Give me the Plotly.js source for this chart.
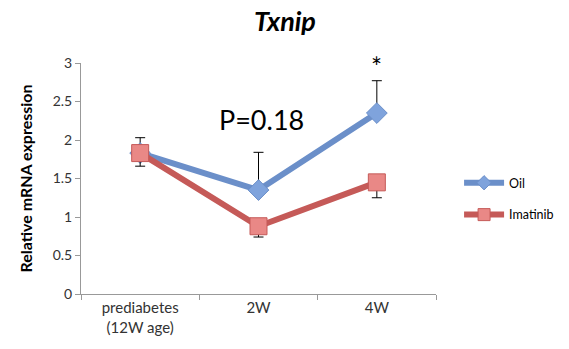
<!DOCTYPE html>
<html><head><meta charset="utf-8">
<script src="https://cdn.plot.ly/plotly-3.0.1.min.js"></script>
<style>body{margin:0}#c{width:569px;height:349px}</style>
</head><body><div id="c"></div>
<script>
const categories = ["prediabetes<br>(12W age)", "2W", "4W"];
const oilValues = [1.83, 1.35, 2.35];
const oilErrPlus = [0.2, 0.49, 0.42];
const imatinibValues = [1.83, 0.88, 1.45];
const imatinibErrMinus = [0.17, 0.14, 0.2];
const yTicks = [0, 0.5, 1, 1.5, 2, 2.5, 3];

const font = "Lato, 'Open Sans', sans-serif";
const oilLine = {color: "#6b8fc9", width: 6};
const imaLine = {color: "#c55a58", width: 6};
const oil = {
  x: categories, y: oilValues, name: "Oil", type: "scatter", mode: "lines+markers",
  line: oilLine, showlegend: false,
  marker: {symbol: "diamond", size: 16, color: "#7fa3dc", line: {color: "#6b8fc9", width: 1}},
  error_y: {type: "data", array: oilErrPlus, arrayminus: [0,0,0], symmetric: false, color: "#000", thickness: 1, width: 5}
};
const ima = {
  x: categories, y: imatinibValues, name: "Imatinib", type: "scatter", mode: "lines+markers",
  line: imaLine, showlegend: false,
  marker: {symbol: "square", size: 17, color: "#e98886", line: {color: "#c55a58", width: 1}},
  error_y: {type: "data", array: [0,0,0], arrayminus: imatinibErrMinus, symmetric: false, color: "#000", thickness: 1, width: 5}
};
// legend-only entries with smaller legend symbols
const oilKey = {x: [null], y: [null], name: "Oil", type: "scatter", mode: "lines+markers", line: oilLine,
  marker: {symbol: "diamond", size: 11, color: "#7fa3dc", line: {color: "#6b8fc9", width: 1}}, legend: "legend"};
const imaKey = {x: [null], y: [null], name: "Imatinib", type: "scatter", mode: "lines+markers", line: imaLine,
  marker: {symbol: "square", size: 12, color: "#e98886", line: {color: "#c55a58", width: 1}}, legend: "legend2"};
const legendCommon = {xanchor: "left", yanchor: "middle", itemwidth: 40,
  font: {size: 12.5, family: font, color: "#000"}, bgcolor: "rgba(0,0,0,0)"};
const layout = {
  width: 569, height: 349,
  margin: {l: 81, r: 133, t: 63, b: 55, autoexpand: false},
  paper_bgcolor: "#fff", plot_bgcolor: "#fff",
  font: {family: font, color: "#333", size: 13},
  showlegend: true,
  xaxis: {type: "category", range: [-0.5, 2.5], tickson: "boundaries", ticks: "outside", ticklen: 5,
    tickcolor: "#999", showline: true, linecolor: "#999", linewidth: 1, showgrid: false, zeroline: false,
    tickfont: {size: 15, family: font, color: "#333"}},
  yaxis: {range: [0, 3], tickvals: yTicks, ticktext: yTicks.map(String), ticks: "outside", ticklen: 5,
    tickcolor: "#999", showline: true, linecolor: "#999", linewidth: 1, showgrid: false, zeroline: false,
    tickfont: {size: 14, family: font, color: "#333"}},
  legend: Object.assign({x: 1.065, y: 0.48}, legendCommon),
  legend2: Object.assign({x: 1.065, y: 0.342}, legendCommon),
  annotations: [
    {text: "<b><i>Txnip</i></b>", xref: "paper", yref: "paper", x: 0.575, y: 1.0, yshift: 43, xanchor: "center", yanchor: "middle", showarrow: false, font: {size: 27, family: font, color: "#000"}},
    {text: "P=0.18", xref: "x", yref: "paper", x: 1, y: 0.755, xshift: 3, xanchor: "center", yanchor: "middle", showarrow: false, font: {size: 27, family: font, color: "#000"}},
    {text: "*", xref: "x", yref: "y", x: 2, y: 2.95, xanchor: "center", yanchor: "middle", showarrow: false, font: {size: 26, family: font, color: "#000"}},
    {text: "<b>Relative mRNA expression</b>", xref: "paper", yref: "paper", x: -0.155, y: 0.5, textangle: -90, xanchor: "center", yanchor: "middle", showarrow: false, font: {size: 16, family: font, color: "#000"}}
  ]
};
Plotly.newPlot("c", [oil, ima, oilKey, imaKey], layout, {displayModeBar: false, staticPlot: true});
</script></body></html>
